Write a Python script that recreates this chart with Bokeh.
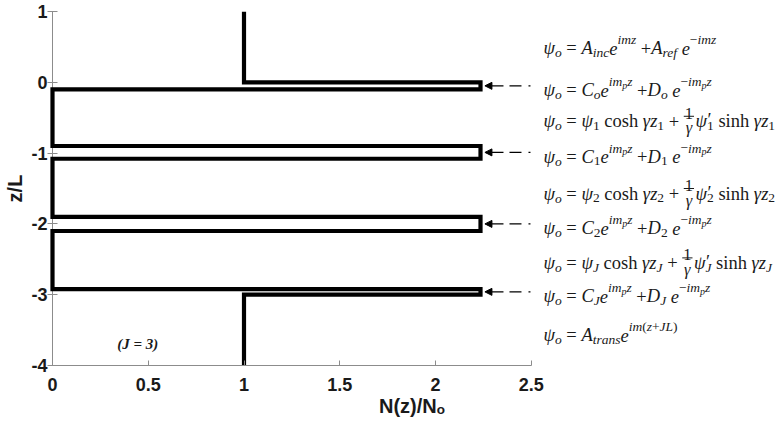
import math, glob, os
from bokeh.plotting import figure
from bokeh.models import FixedTicker, Arrow, NormalHead, Range1d
from bokeh.embed import file_html
from bokeh.resources import INLINE
from bokeh.core.properties import value

# ---------------- data ----------------
N_profile = [1, 1, 2.235, 2.235, 0, 0, 2.235, 2.235, 0, 0, 2.235, 2.235, 0, 0, 2.235, 2.235, 1, 1]
z_profile = [1, 0, 0, -0.1, -0.1, -0.9, -0.9, -1.08, -1.08, -1.9, -1.9, -2.1, -2.1, -2.92, -2.92, -3.0, -3.0, -4]

x_ticks = [0, 0.5, 1, 1.5, 2, 2.5]
x_tick_labels = ["0", "0.5", "1", "1.5", "2", "2.5"]
y_ticks = [-4, -3, -2, -1, 0, 1]
y_tick_labels = ["-4", "-3", "-2", "-1", "0", "1"]

x_axis_label = "N(z)/N\u2092"
y_axis_label = "z/L"
note_text = "(J = 3)"

arrow_z = [-0.05, -0.99, -2.0, -2.96]
eq_z = [0.55, -0.04, -0.48, -0.98, -1.5, -1.99, -2.48, -2.95, -3.5]


def eq_region(k, kb):
    return [("ψ", "v"), ("o", "b"), (" = ", "r"), ("C", "v"), (k, kb), ("e", "v"),
            ("im", "p"), ("p", "pb"), ("z", "p"), (" +", "r"), ("D", "v"), (k, kb),
            (" e", "v"), ("−", "pr"), ("im", "p"), ("p", "pb"), ("z", "p")]


def eq_barrier(k, kb):
    return [("ψ", "v"), ("o", "b"), (" = ", "r"), ("ψ", "v"), (k, kb), (" cosh ", "r"),
            ("γ", "v"), ("z", "v"), (k, kb), (" + ", "r"), ("1|γ", "frac"), ("ψ", "v"),
            ("′|" + k, "stack"), (" sinh ", "r"), ("γ", "v"), ("z", "v"), (k, kb)]


equations = [
    [("ψ", "v"), ("o", "b"), (" = ", "r"), ("A", "v"), ("inc", "b"), ("e", "v"), ("imz", "p"),
     (" +", "r"), ("A", "v"), ("ref", "b"), (" e", "v"), ("−", "pr"), ("imz", "p")],
    eq_region("o", "b"),
    eq_barrier("1", "bn"),
    eq_region("1", "bn"),
    eq_barrier("2", "bn"),
    eq_region("2", "bn"),
    eq_barrier("J", "b"),
    eq_region("J", "b"),
    [("ψ", "v"), ("o", "b"), (" = ", "r"), ("A", "v"), ("trans", "b"), ("e", "v"), ("im", "p"),
     ("(", "pr"), ("z", "p"), ("+", "pr"), ("JL", "p"), (")", "pr")],
]

# ---------------- layout constants ----------------
W, H = 776, 437
B_LEFT, B_RIGHT, B_TOP, B_BOTTOM = 47, 0, 11, 72
XPX = 191.5                      # px per unit of N
X0 = -(52 - B_LEFT) / XPX
X1 = X0 + (W - B_LEFT - B_RIGHT) / XPX
YPX = (H - B_TOP - B_BOTTOM) / 5.0

MATH_FONT = "Liberation Serif"
SANS = "Liberation Sans"
INK = "#1a1a1a"
AXC = "#8c8c8c"
MAIN, SUB, SUBSUB, FRAC = 18.5, 13.5, 10, 16.5
EQ_X = (543 - 52) / XPX


def find_font(name):
    for d in ["/usr/share/fonts", "/usr/local/share/fonts",
              os.path.expanduser("~/.fonts"), os.path.expanduser("~/.local/share/fonts")]:
        hits = glob.glob(os.path.join(d, "**", name), recursive=True)
        if hits:
            return hits[0]
    return None


FONT_FILES = {"normal": find_font("LiberationSerif-Regular.ttf"),
              "italic": find_font("LiberationSerif-Italic.ttf")}
_cache = {}


def meas(text, style, size):
    key = (style, size)
    if key not in _cache:
        f = None
        try:
            from PIL import ImageFont
            if FONT_FILES.get(style):
                f = ImageFont.truetype(FONT_FILES[style], size)
        except Exception:
            f = None
        _cache[key] = f
    f = _cache[key]
    if f is not None:
        try:
            return f.getlength(text)
        except Exception:
            pass
    return 0.5 * size * len(text)


ROLES = {"v": (MAIN, "italic", 0), "r": (MAIN, "normal", 0),
         "b": (SUB, "italic", 4.5), "bn": (SUB, "normal", 4.5),
         "p": (SUB, "italic", -8.5), "pr": (SUB, "normal", -8.5),
         "pb": (SUBSUB, "italic", -5)}
BASE = 5.0   # baseline below the equation's math axis, px

groups = {}
bars = {"x0": [], "x1": [], "y": []}


def put(size, style, cx, dy, text, z):
    g = groups.setdefault((size, style), {"x": [], "y": [], "t": []})
    g["x"].append(EQ_X + cx / XPX)
    g["y"].append(z - dy / YPX)
    g["t"].append(text)


def put_run(size, style, cx, dy, text, z):
    """Place a run; leading/trailing blanks become advances (SVG collapses them)."""
    core = text.strip(" ")
    lead = len(text) - len(text.lstrip(" "))
    trail = len(text) - len(text.rstrip(" "))
    sp = meas(" ", style, size)
    cx += lead * sp
    if core:
        put(size, style, cx, dy, core, z)
        cx += meas(core, style, size)
    cx += trail * sp
    return cx


for eq, z in zip(equations, eq_z):
    cx = 0.0
    for text, role in eq:
        if role == "frac":
            num, den = text.split("|")
            wn, wd = meas(num, "normal", FRAC), meas(den, "italic", FRAC)
            w = max(wn, wd) + 2
            put(FRAC, "normal", cx + (w - wn) / 2, -3.0, num, z)
            put(FRAC, "italic", cx + (w - wd) / 2, 11.5, den, z)
            bars["x0"].append(EQ_X + cx / XPX)
            bars["x1"].append(EQ_X + (cx + w) / XPX)
            bars["y"].append(z)
            cx += w + 1.5
        elif role == "stack":
            pr, sb = text.split("|")
            style_sb = "normal" if sb.isdigit() else "italic"
            wp, ws = meas(pr, "normal", MAIN), meas(sb, style_sb, SUB)
            put(MAIN, "normal", cx + 0.5, BASE - 1, pr, z)
            put(SUB, style_sb, cx, BASE + 4.5, sb, z)
            cx += max(wp + 0.5, ws)
        else:
            size, style, dy = ROLES[role]
            cx = put_run(size, style, cx, BASE + dy, text, z)

# ---------------- figure ----------------
p = figure(width=W, height=H, x_range=Range1d(X0, X1), y_range=Range1d(-4, 1),
           output_backend="svg", toolbar_location=None,
           min_border_left=B_LEFT, min_border_right=B_RIGHT,
           min_border_top=B_TOP, min_border_bottom=B_BOTTOM)
p.outline_line_color = None
p.grid.visible = False
p.background_fill_color = "white"
p.border_fill_color = "white"

for ax, ticks, labels, bounds in [(p.xaxis, x_ticks, x_tick_labels, (0, 2.5)),
                                  (p.yaxis, y_ticks, y_tick_labels, (-4, 1))]:
    ax.ticker = FixedTicker(ticks=ticks)
    ax.major_label_overrides = {float(t): l for t, l in zip(ticks, labels)}
    ax.bounds = bounds
    ax.axis_line_color = AXC
    ax.major_tick_line_color = AXC
    ax.major_tick_in = 5
    ax.major_tick_out = 0
    ax.minor_tick_line_color = None
    ax.major_label_text_font = SANS
    ax.major_label_text_font_style = "bold"
    ax.major_label_text_font_size = "18px"
    ax.major_label_text_color = INK
    ax.axis_label_text_font = SANS
    ax.axis_label_text_font_style = "bold"
    ax.axis_label_text_font_size = "20px"
    ax.axis_label_text_color = INK

p.xaxis.axis_label = x_axis_label
p.xaxis.major_label_standoff = 12
p.xaxis.axis_label_standoff = 1
p.yaxis.axis_label = y_axis_label
p.yaxis.major_label_standoff = 0
p.yaxis.axis_label_standoff = 2
# y spine drawn at N = 0 (under the profile); the axis sits 5 px left of it
p.yaxis.axis_line_color = None
p.yaxis.major_tick_in = 10
p.segment(x0=[x_ticks[0]], y0=[y_ticks[0]], x1=[x_ticks[0]], y1=[y_ticks[-1]],
          line_color=AXC, line_width=1)

p.line(N_profile, z_profile, line_width=4.2, color="black", line_join="miter")

for z in arrow_z:
    p.add_layout(Arrow(x_start=2.496, y_start=z, x_end=2.258, y_end=z,
                       line_color="black", line_width=1.4, line_dash="2 7 12 6 40",
                       end=NormalHead(size=7, fill_color="black", line_color="black",
                                      line_width=1)))

for (size, style), g in groups.items():
    p.text(x=g["x"], y=g["y"], text=g["t"], text_font=value(MATH_FONT),
           text_font_size=f"{size}px", text_font_style=style, text_color=INK,
           text_align="left", text_baseline="alphabetic")
p.segment(x0=bars["x0"], y0=bars["y"], x1=bars["x1"], y1=bars["y"],
          line_color=INK, line_width=1)

p.text(x=[0.445], y=[-3.69], text=[note_text], text_font=value("Liberation Serif"),
       text_font_size="15px", text_font_style="bold italic", text_color=INK,
       text_align="center", text_baseline="middle")

open("out.html", "w").write(file_html(p, INLINE))
